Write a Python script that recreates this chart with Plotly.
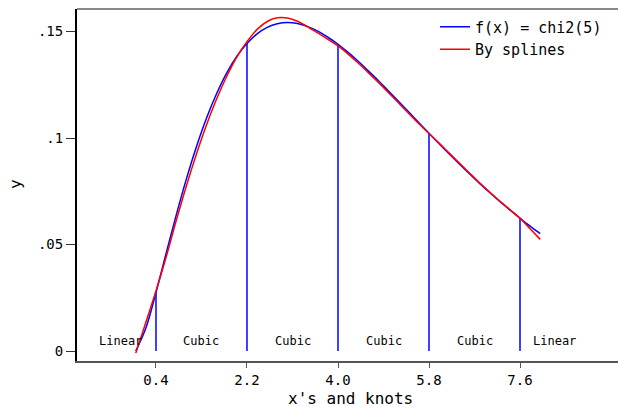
import plotly.graph_objects as go

# data
x_vals = [0.0, 0.2, 0.4, 0.6, 0.8, 1.0, 1.2, 1.4, 1.6, 1.8, 2.0, 2.2, 2.4, 2.6, 2.8, 3.0,
          3.2, 3.4, 3.6, 3.8, 4.0, 4.2, 4.4, 4.6, 4.8, 5.0, 5.2, 5.4, 5.6, 5.8, 6.0,
          6.2, 6.4, 6.6, 6.8, 7.0, 7.2, 7.4, 7.6, 7.8, 8.0]
f_chi2 = [0.0, 0.0108, 0.0275, 0.0458, 0.0638, 0.0807, 0.0959, 0.1094, 0.1209, 0.1306,
          0.1384, 0.1444, 0.1489, 0.1519, 0.1536, 0.1542, 0.1537, 0.1523, 0.1502, 0.1473,
          0.1440, 0.1402, 0.1360, 0.1315, 0.1269, 0.1220, 0.1171, 0.1122, 0.1072, 0.1022,
          0.0973, 0.0925, 0.0878, 0.0832, 0.0787, 0.0744, 0.0702, 0.0662, 0.0623, 0.0586,
          0.0551]
spline = [-0.001, 0.0135, 0.0282, 0.0440, 0.0612, 0.0775, 0.0925, 0.1062, 0.1184, 0.1290,
          0.1381, 0.1452, 0.1510, 0.1547, 0.1564, 0.1563, 0.1548, 0.1522, 0.1493, 0.1463,
          0.1432, 0.1394, 0.1352, 0.1307, 0.1261, 0.1213, 0.1164, 0.1115, 0.1067, 0.1021,
          0.0976, 0.0929, 0.0882, 0.0836, 0.0790, 0.0746, 0.0704, 0.0664, 0.0624, 0.0574,
          0.0524]
knots = [0.4, 2.2, 4.0, 5.8, 7.6]
knot_heights = [0.0275, 0.1444, 0.1440, 0.1022, 0.0623]
tick_vals_x = [0.4, 2.2, 4.0, 5.8, 7.6]
tick_text_x = ["0.4", "2.2", "4.0", "5.8", "7.6"]
tick_vals_y = [0, 0.05, 0.1, 0.15]
tick_text_y = ["0", ".05", ".1", ".15"]
seg_labels = ["Linear", "Cubic", "Cubic", "Cubic", "Cubic", "Linear"]
seg_label_x = [-0.3, 1.3, 3.1, 4.9, 6.7, 8.28]
seg_label_y = 0.0047

FONT = "DejaVu Sans Mono"

fig = go.Figure()

kx, ky = [], []
for k, h in zip(knots, knot_heights):
    kx += [k, k, None]
    ky += [0, h, None]
fig.add_trace(go.Scatter(x=kx, y=ky, mode="lines", line=dict(color="#0000ff", width=1.5),
                         showlegend=False, hoverinfo="skip"))
fig.add_trace(go.Scatter(x=x_vals, y=f_chi2, mode="lines", name="f(x) = chi2(5)",
                         line=dict(color="#0000ff", width=1.5, shape="spline")))
fig.add_trace(go.Scatter(x=x_vals, y=spline, mode="lines", name="By splines",
                         line=dict(color="#ff0000", width=1.5, shape="spline")))

for t, xv in zip(seg_labels, seg_label_x):
    fig.add_annotation(x=xv, y=seg_label_y, text=t, showarrow=False,
                       font=dict(family=FONT, size=12, color="#000000"),
                       xanchor="center", yanchor="middle")

# axis titles
fig.add_annotation(xref="paper", yref="paper", x=(350 - 77) / 541, y=(361 - 398.5) / 352,
                   text="x's and knots", showarrow=False, xanchor="center", yanchor="middle",
                   font=dict(family=FONT, size=16, color="#000000"))
fig.add_annotation(xref="paper", yref="paper", x=(15 - 77) / 541, y=(361 - 184) / 352,
                   text="y", textangle=-90, showarrow=False, xanchor="center", yanchor="middle",
                   font=dict(family=FONT, size=16, color="#000000"))

# top frame line
fig.add_shape(type="line", xref="paper", yref="paper", x0=0, x1=1, y0=1, y1=1,
              line=dict(color="#888888", width=2))

fig.update_layout(
    width=618, height=407,
    margin=dict(l=77, r=0, t=9, b=46),
    paper_bgcolor="white", plot_bgcolor="white",
    font=dict(family=FONT, color="#000000"),
    showlegend=True,
    legend=dict(x=(435 - 77) / 541, y=(361 - 10.5) / 352, xanchor="left", yanchor="top",
                bgcolor="rgba(0,0,0,0)", font=dict(family=FONT, size=15),
                tracegroupgap=0),
    xaxis=dict(range=[-1.1625, 9.5385], tickvals=tick_vals_x, ticktext=tick_text_x,
               showgrid=False, zeroline=False, showline=True, linecolor="#555555", linewidth=2,
               ticks="outside", ticklen=5, tickcolor="#555555", tickwidth=1,
               tickfont=dict(family=FONT, size=14)),
    yaxis=dict(range=[-0.00469, 0.16056], tickvals=tick_vals_y, ticktext=tick_text_y,
               showgrid=False, zeroline=False, showline=True, linecolor="#000000", linewidth=2,
               ticks="outside", ticklen=9, tickcolor="#333333", tickwidth=1,
               tickfont=dict(family=FONT, size=14)),
)

fig.write_html("out.html", config={"displayModeBar": False},
               post_script="document.body.style.margin='0';document.body.style.overflow='hidden';")
